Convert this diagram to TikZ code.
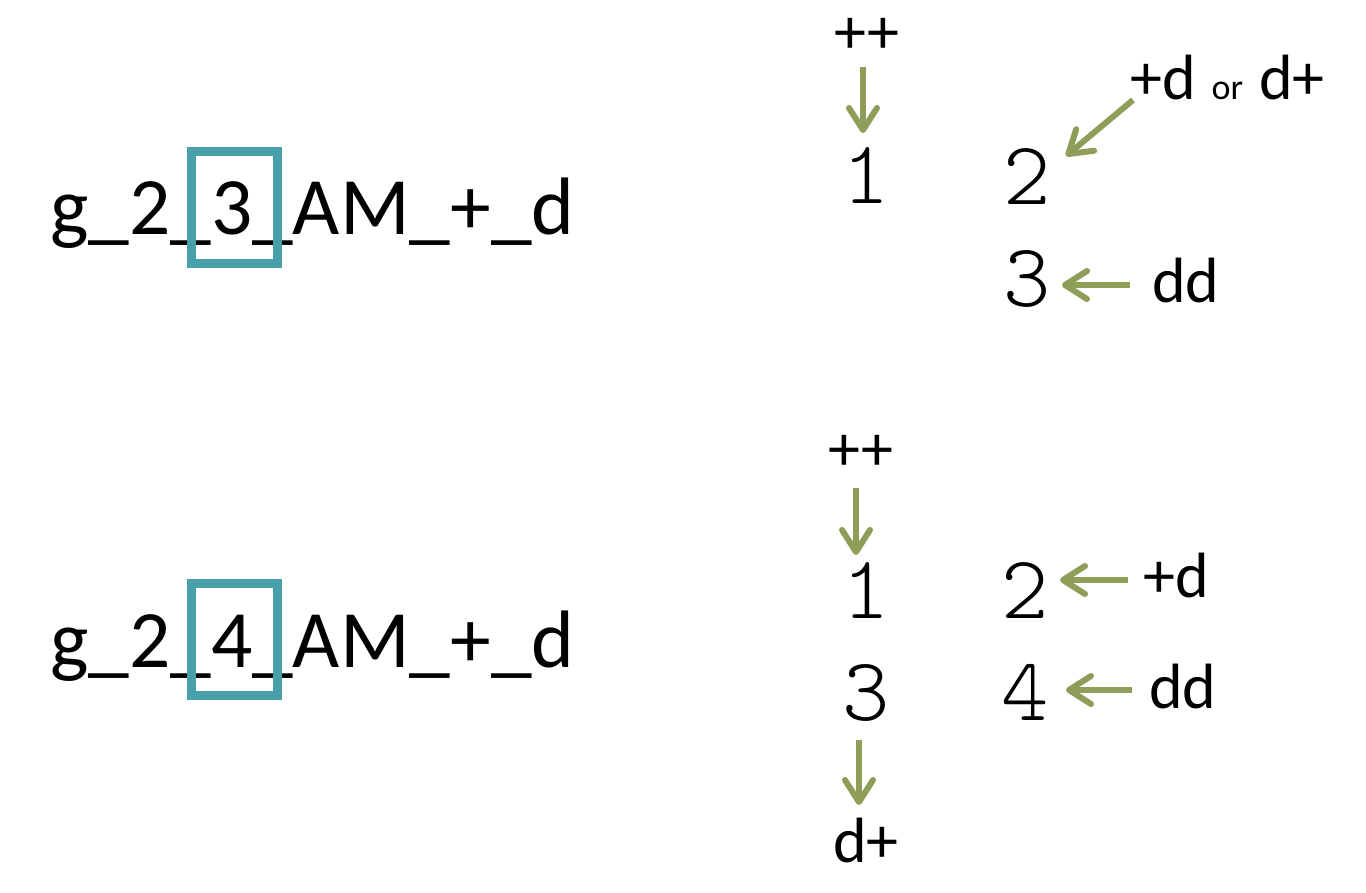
\documentclass[tikz,border=0pt]{standalone}
\usepackage{fontspec}
\setmainfont{Carlito}
\usetikzlibrary{arrows.meta}
\definecolor{boxteal}{RGB}{72,160,170}
\definecolor{arrowolive}{RGB}{142,158,88}
\newcommand{\digitfont}{\fontfamily{lmtt}\fontseries{l}\selectfont}
\tikzset{
  bigtext/.style={inner sep=0pt, font=\fontsize{81.5}{90}\selectfont, anchor=base west},
  lbl/.style={inner sep=0pt, font=\fontsize{64}{70}\selectfont, anchor=base},
  dig/.style={inner sep=0pt, font=\fontsize{90}{96}\digitfont, anchor=base},
  hlbox/.style={draw=boxteal, line width=9pt, minimum width=86pt, minimum height=112pt, inner sep=0pt},
  oarrow/.style={draw=arrowolive, line width=6pt, -{Straight Barb[length=22pt,width=28pt,round]}}
}
\begin{document}
\begin{tikzpicture}[x=1pt,y=-1pt]
\useasboundingbox (0,0) rectangle (1366,893);
% left strings
\node[bigtext] (s1) at (50,235) {g\_2\_3\_AM\_+\_d};
\node[bigtext] (s2) at (50,667) {g\_2\_4\_AM\_+\_d};
\node[hlbox] (b1) at (234.5,207.5) {};
\node[hlbox] (b2) at (234.5,639.5) {};
% top group
\node[lbl] (tpp) at (867,54) {++};
\node[dig] (t1) at (866,204) {1};
\node[dig] (t2) at (1027,205) {2};
\node[lbl, anchor=base west] (tor) at (1130,100) {+d\hspace{16pt}{\fontsize{36}{40}\selectfont or}\hspace{16pt}d+};
\node[dig] (t3) at (1027,307) {3};
\node[lbl] (tdd) at (1186,303) {dd};
\coordinate (ta1s) at (863,67);
\coordinate (ta1e) at (863,133);
\coordinate (ta2s) at (1133,100);
\coordinate (ta2e) at (1066,156);
\coordinate (ta3s) at (1130,285);
\coordinate (ta3e) at (1062,285);
\draw[oarrow] (ta1s) -- (ta1e);
\draw[oarrow] (ta2s) -- (ta2e);
\draw[oarrow] (ta3s) -- (ta3e);
% bottom group
\node[lbl] (bpp) at (861,470) {++};
\node[dig] (b1d) at (866,618) {1};
\node[dig] (b2d) at (1025,618) {2};
\node[lbl] (bpd) at (1176,597) {+d};
\node[dig] (b3d) at (866,720) {3};
\node[dig] (b4d) at (1025,720) {4};
\node[lbl] (bdd) at (1183,708) {dd};
\node[lbl] (bdp) at (866,862) {d+};
\coordinate (ba1s) at (856,488);
\coordinate (ba1e) at (856,555);
\coordinate (ba2s) at (1128,580);
\coordinate (ba2e) at (1060,580);
\coordinate (ba3s) at (1132,690);
\coordinate (ba3e) at (1066,690);
\coordinate (ba4s) at (859,740);
\coordinate (ba4e) at (859,805);
\draw[oarrow] (ba1s) -- (ba1e);
\draw[oarrow] (ba2s) -- (ba2e);
\draw[oarrow] (ba3s) -- (ba3e);
\draw[oarrow] (ba4s) -- (ba4e);
\end{tikzpicture}
\end{document}
